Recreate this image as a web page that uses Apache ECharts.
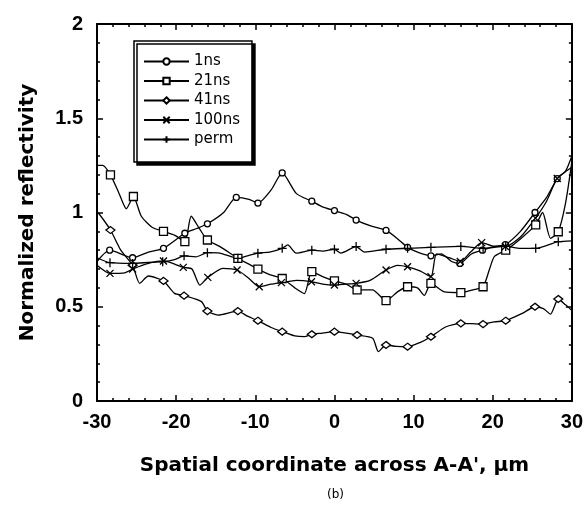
<!DOCTYPE html>
<html>
<head>
<meta charset="utf-8">
<script src="https://cdn.jsdelivr.net/npm/echarts@6/dist/echarts.min.js"></script>
<style>
  html, body { margin: 0; padding: 0; background: #fff; }
  #chart { width: 586px; height: 508px; }
</style>
</head>
<body>
<div id="chart"></div>
<script>
// series names as in the legend
var seriesNames = ["1ns", "21ns", "41ns", "100ns", "perm"];

// [x (um), normalized reflectivity]
var ns1 = [[-30,0.74],[-28.4,0.80],[-25.5,0.76],[-23.5,0.79],[-21.6,0.81],[-18.9,0.89],[-17.4,0.915],[-16.05,0.94],[-14,1.0],[-12.4,1.08],[-10.8,1.07],[-9.67,1.05],[-8,1.12],[-6.6,1.21],[-4.8,1.10],[-2.86,1.06],[-1.5,1.03],[0,1.01],[1.5,0.99],[2.74,0.96],[4.5,0.93],[6.52,0.905],[8,0.86],[9.24,0.815],[10.5,0.79],[12.19,0.77],[13.5,0.78],[14.8,0.74],[15.85,0.73],[17.3,0.78],[18.7,0.80],[20.2,0.82],[21.6,0.83],[23.5,0.90],[25.34,1.0],[26.8,1.08],[28.15,1.18],[29.2,1.22],[30,1.30]];
var ns21 = [[-30,1.25],[-29.3,1.25],[-28.3,1.20],[-27.2,1.10],[-26.3,1.02],[-25.4,1.085],[-24.4,0.98],[-23,0.92],[-21.6,0.90],[-20.2,0.88],[-18.9,0.845],[-18.1,0.98],[-17.0,0.91],[-16.05,0.854],[-14.5,0.82],[-12.2,0.757],[-11,0.73],[-9.67,0.70],[-8.2,0.67],[-6.6,0.65],[-5,0.60],[-3.8,0.57],[-2.86,0.686],[-1.5,0.66],[0,0.637],[1.5,0.62],[2.86,0.589],[4.8,0.59],[6.52,0.532],[8,0.58],[9.24,0.606],[10.5,0.60],[11.35,0.56],[12.19,0.624],[13.8,0.58],[15.97,0.575],[17.5,0.59],[18.78,0.606],[19.6,0.70],[20.2,0.766],[21.64,0.80],[23.5,0.86],[25.43,0.934],[26.3,1.0],[27.3,0.863],[28.28,0.898],[29.2,1.05],[30,1.27]];
var ns41 = [[-30,1.0],[-29.8,0.996],[-28.3,0.907],[-27,0.80],[-25.5,0.72],[-24.6,0.624],[-23.5,0.663],[-21.6,0.637],[-20.2,0.571],[-19.0,0.559],[-16.8,0.527],[-16.05,0.477],[-14.7,0.456],[-12.2,0.477],[-11,0.45],[-9.67,0.426],[-8,0.39],[-6.6,0.368],[-5,0.345],[-3.8,0.341],[-2.86,0.354],[-1.5,0.36],[0,0.368],[1.5,0.36],[2.86,0.35],[4.83,0.333],[5.55,0.262],[6.52,0.297],[7.8,0.29],[9.24,0.288],[10.8,0.31],[12.19,0.341],[14.1,0.394],[15.97,0.412],[17.4,0.41],[18.78,0.408],[20.2,0.42],[21.64,0.426],[23.74,0.465],[25.34,0.50],[26.4,0.49],[27.3,0.461],[28.28,0.541],[29.2,0.51],[30,0.48]];
var ns100 = [[-30,0.72],[-28.36,0.677],[-26.5,0.68],[-25.5,0.70],[-23.5,0.73],[-21.6,0.743],[-19.1,0.709],[-18,0.70],[-17.0,0.615],[-16.0,0.656],[-14.1,0.704],[-12.3,0.695],[-10.8,0.65],[-9.5,0.606],[-8,0.62],[-6.7,0.628],[-4.8,0.64],[-2.9,0.633],[-1.5,0.62],[0,0.615],[1.5,0.62],[2.74,0.624],[4.5,0.64],[6.52,0.695],[8,0.72],[9.24,0.712],[10.8,0.69],[12.2,0.66],[12.9,0.78],[14.5,0.76],[15.9,0.74],[17.2,0.79],[18.6,0.84],[20.2,0.82],[21.6,0.82],[23.5,0.87],[25.4,0.97],[26.8,1.06],[28.15,1.18],[30,1.24]];
var perm = [[-30,0.76],[-28.36,0.734],[-25.5,0.73],[-23.5,0.735],[-21.7,0.739],[-20.2,0.75],[-19,0.77],[-17.5,0.765],[-16.05,0.787],[-14.5,0.785],[-12.2,0.757],[-11,0.77],[-9.67,0.784],[-8.2,0.79],[-6.6,0.81],[-5.9,0.828],[-4.83,0.784],[-2.86,0.80],[-1.5,0.795],[0,0.805],[0.8,0.785],[2.74,0.819],[3.8,0.79],[6.52,0.805],[9.24,0.81],[12.19,0.815],[15.97,0.82],[18.78,0.81],[21.64,0.82],[23.5,0.81],[25.43,0.81],[28.28,0.845],[30,0.85]];

// x positions that carry a marker
var ns1Marks = [-28.4,-25.5,-21.6,-18.9,-16.05,-12.4,-9.67,-6.6,-2.86,0,2.74,6.52,9.24,12.19,15.85,18.7,21.6,25.34,28.15];
var ns21Marks = [-28.3,-25.4,-21.6,-18.9,-16.05,-12.2,-9.67,-6.6,-2.86,0,2.86,6.52,9.24,12.19,15.97,18.78,21.64,25.43,28.28];
var ns41Marks = [-28.3,-25.5,-21.6,-19.0,-16.05,-12.2,-9.67,-6.6,-2.86,0,2.86,6.52,9.24,12.19,15.97,18.78,21.64,25.34,28.28];
var ns100Marks = [-28.36,-25.5,-21.6,-19.1,-16.0,-12.3,-9.5,-6.7,-2.9,0,2.74,6.52,9.24,12.2,15.9,18.6,21.6,25.4,28.15];
var permMarks = [-28.36,-25.5,-21.7,-19,-16.05,-12.2,-9.67,-6.6,-2.86,0,2.74,6.52,9.24,12.19,15.97,18.78,21.64,25.43,28.28];

var chart = echarts.init(document.getElementById("chart"));

function markedData(points, marks) {
  return points.map(function (p) {
    var item = { value: p };
    if (marks.indexOf(p[0]) < 0) item.symbol = "none";
    return item;
  });
}

function makeSeries(name, points, marks, symbol, size) {
  return {
    name: name,
    type: "line",
    smooth: 0.22,
    symbol: symbol,
    symbolSize: size,
    showAllSymbol: true,
    lineStyle: { color: "#000", width: 1.3 },
    itemStyle: { color: "#fff", borderColor: "#000", borderWidth: 1.3 },
    emphasis: { disabled: true },
    data: markedData(points, marks),
  };
}

var tickFont = { color: "#000", fontFamily: "Liberation Sans", fontWeight: "bold", fontSize: 20 };
var titleFont = { color: "#000", fontFamily: "DejaVu Sans", fontWeight: "bold", fontSize: 20 };

function axisBase(min, max, interval) {
  return {
    type: "value",
    min: min,
    max: max,
    interval: interval,
    axisLine: { show: true, onZero: false, lineStyle: { color: "#000", width: 2 } },
    axisTick: { show: true, inside: true, length: 6, lineStyle: { color: "#000", width: 1.5 } },
    minorTick: { show: true, splitNumber: 5, length: 3, lineStyle: { color: "#000", width: 1.5 } },
    splitLine: { show: false },
    minorSplitLine: { show: false },
  };
}

var xBottom = axisBase(-30, 30, 10);
xBottom.position = "bottom";
xBottom.axisLabel = Object.assign({ margin: 11 }, tickFont);
xBottom.name = "Spatial coordinate across A-A', \u00b5m";
xBottom.nameLocation = "middle";
xBottom.nameGap = 55;
xBottom.nameTextStyle = titleFont;

var xTop = axisBase(-30, 30, 10);
xTop.position = "top";
xTop.axisLabel = { show: false };

var yLeft = axisBase(0, 2, 0.5);
yLeft.position = "left";
yLeft.axisLabel = Object.assign({ margin: 14 }, tickFont);
yLeft.name = "Normalized reflectivity";
yLeft.nameLocation = "middle";
yLeft.nameGap = 59;
yLeft.nameTextStyle = titleFont;

var yRight = axisBase(0, 2, 0.5);
yRight.position = "right";
yRight.axisLabel = { show: false };

var option = {
  animation: false,
  backgroundColor: "#fff",
  grid: { left: 97, right: 13, top: 24, bottom: 107 },
  legend: {
    data: seriesNames,
    orient: "vertical",
    left: 134,
    top: 41,
    padding: [13, 12, 15, 9],
    itemWidth: 45,
    itemHeight: 8,
    itemGap: 4.5,
    selectedMode: false,
    backgroundColor: "#fff",
    borderColor: "#000",
    borderWidth: 1.5,
    shadowColor: "#000",
    shadowBlur: 0,
    shadowOffsetX: 3,
    shadowOffsetY: 3,
    textStyle: { color: "#000", fontFamily: "DejaVu Sans", fontSize: 15, lineHeight: 15 },
  },
  xAxis: [xBottom, xTop],
  yAxis: [yLeft, yRight],
  graphic: [
    {
      type: "text",
      left: 327,
      top: 489,
      style: { text: "(b)", fill: "#000", font: "12px 'DejaVu Sans'" },
    },
  ],
  series: [
    makeSeries(seriesNames[0], ns1, ns1Marks, "circle", 6),
    makeSeries(seriesNames[1], ns21, ns21Marks, "rect", 8),
    makeSeries(seriesNames[2], ns41, ns41Marks, "diamond", [9, 7]),
    makeSeries(seriesNames[3], ns100, ns100Marks, "path://M0,0L10,10M10,0L0,10", 7),
    makeSeries(seriesNames[4], perm, permMarks, "path://M5,0L5,10M0,5L10,5", 9),
  ],
};

chart.setOption(option);
</script>
</body>
</html>
